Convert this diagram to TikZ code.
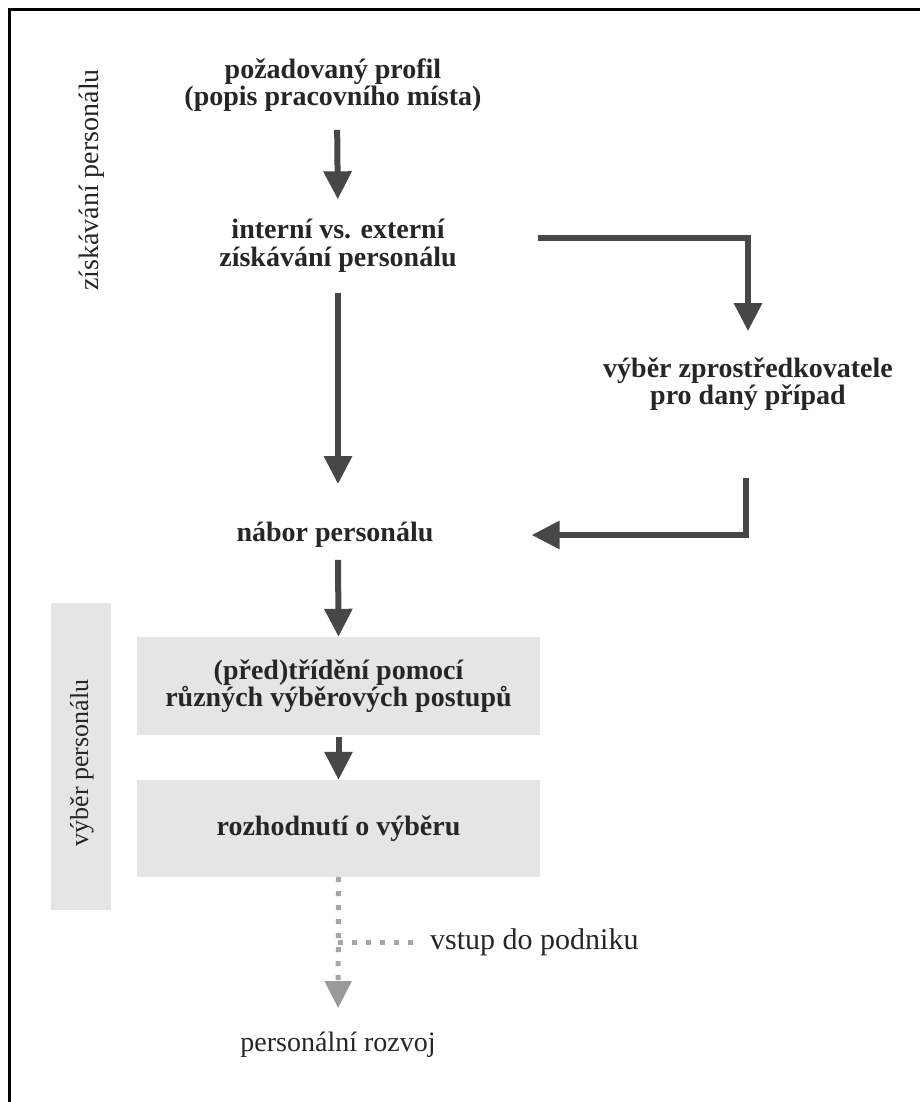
\documentclass[tikz,border=0pt]{standalone}
\usepackage{fontspec}
\setmainfont{Liberation Serif}
\usetikzlibrary{arrows.meta,positioning,calc}

\begin{document}
\begin{tikzpicture}[
  x=1pt, y=-1pt,
  lbl/.style={align=center, inner sep=0pt, text=black!85, font=\fontsize{28}{27.5}\selectfont\bfseries},
  plain/.style={lbl, font=\fontsize{28}{27.5}\selectfont},
  greybox/.style={lbl, fill=black!10, minimum width=403pt},
  sidebox/.style={fill=black!10, minimum width=60pt, minimum height=307pt, inner sep=0pt},
  arr/.style={draw=black!72, line width=6pt, -{Triangle[length=28pt,width=27pt]}},
  dots/.style={draw=black!35, line width=5pt, dash pattern=on 5pt off 9pt},
]
\useasboundingbox (0,0) rectangle (920,1102);
\draw[line width=3pt] (9,1102) -- (9,10) -- (920,10);

% main column
\node[lbl] (prof) at (333,85) {požadovaný profil\\(popis pracovního místa)};
\node[lbl] (ie) at (338,246) {interní vs. externí\\získávání personálu};
\node[lbl] (zpr) at (748,384) {výběr zprostředkovatele\\pro daný případ};
\node[lbl] (nab) at (335,535) {nábor personálu};
\node[greybox, minimum height=98pt] (b1) at (338.5,686) {(před)třídění pomocí\\různých výběrových postupů};
\node[greybox, minimum height=97pt] (b2) at (338.5,828.5) {rozhodnutí o výběru};
\node[plain, anchor=west, font=\fontsize{30}{30}\selectfont] (vstup) at (430,942) {vstup do podniku};
\node[plain] (rozvoj) at (338,1045) {personální rozvoj};

% side labels
\node[plain, rotate=90] (zisk) at (92,180) {získávání personálu};
\node[sidebox] (vyber) at (81,756.5) {};
\node[plain, rotate=90, font=\fontsize{26}{26}\selectfont] (vybertxt) at (82,763) {výběr personálu};

% connectors
\coordinate (split) at (538,238);
\coordinate (back) at (746,478);
\coordinate (entry) at (338,942);
\draw[arr, shorten <=18pt, shorten >=20pt] ([xshift=4pt]prof.south) -- (ie.north);
\draw[arr, shorten <=20pt, shorten >=38pt] (ie.south) -- ([xshift=3pt]nab.north);
\draw[arr, shorten >=26pt] (split) -| (zpr.north);
\draw[arr, shorten >=98pt] (back) |- (nab.east);
\draw[arr, shorten <=12pt] ([xshift=3pt]nab.south) -- (b1.north);
\draw[arr, shorten <=2pt] (b1.south) -- (b2.north);
\draw[dots, -{Triangle[length=27pt,width=26pt,fill=black!40,color=black!40]}, shorten >=24pt] (b2.south) -- (rozvoj.north);
\draw[dots, shorten >=10pt] (entry) -- (vstup.west);
\end{tikzpicture}
\end{document}
